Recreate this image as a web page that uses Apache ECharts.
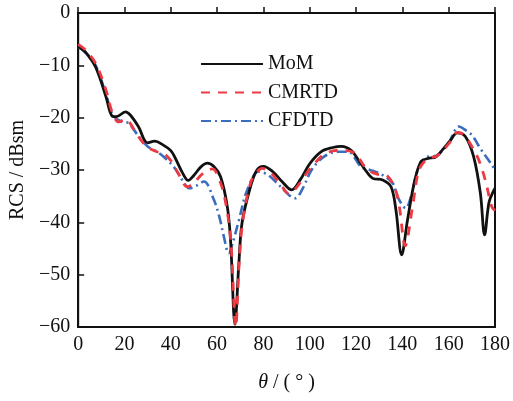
<!DOCTYPE html>
<html><head><meta charset="utf-8">
<script src="https://cdn.jsdelivr.net/npm/echarts@6/dist/echarts.min.js"></script>
<style>html,body{margin:0;padding:0;background:#fff}#c{width:513px;height:401px}</style>
</head><body><div id="c"></div>
<script>
const xTicks = [0,20,40,60,80,100,120,140,160,180];
const yTicks = [-60,-50,-40,-30,-20,-10,0];

const momTheta = [0,3,7.5,12,14.7,16.5,20.4,22.5,26,30,33,36.6,40,42,45,47.5,50,53,55.8,58.5,61.5,64.4,65.8,67.7,69.4,70.8,74.4,77.2,80,84,88,92.2,96,100,105,110,113.7,118,121.5,124,127.2,131.5,135.1,137.2,139.7,142.2,145.1,148,151,154.4,157.2,160.5,163.7,167.2,170.8,173.7,175.5,177.5,180];
const momRCS = [-6.4,-7.4,-10.3,-16,-19.7,-19.8,-18.9,-19.5,-21.7,-24.8,-24.5,-25.2,-26.3,-27.8,-30.5,-32,-31,-29.4,-28.7,-29.3,-31.3,-37,-43.4,-59.5,-47.8,-40,-33.2,-30,-29.3,-30.3,-32.2,-33.8,-31.8,-28.8,-26.5,-25.7,-25.5,-26.3,-28.4,-30,-31.6,-31.9,-33.2,-37.6,-46.2,-39.6,-32.5,-28.4,-27.8,-27.5,-26.2,-24.5,-22.9,-23.6,-27.5,-34.5,-42.4,-36,-33.5];

const cmrtdTheta = [0,3,7.5,12,14.7,17.5,20.4,22,26,29.6,34,36.5,40,43,47.2,50,53,56,58,61.5,64,66,68,69.5,71,74.4,77,79.4,83,87,91,94,98,102.2,107,113.7,119.4,124.4,129,133,137,138.7,141.2,144.4,147.2,151,155,160,164,167,170,173,175.8,178.6,180];
const cmrtdRCS = [-6,-7,-9.6,-14.7,-19,-20.8,-20.3,-20.8,-23.6,-25.5,-26.5,-26.7,-28.2,-30.5,-33.2,-32.5,-31,-30,-29.8,-32.5,-37,-44,-60,-48,-40,-32.5,-30.5,-29.7,-30.5,-32.5,-34.5,-33.5,-31,-28.7,-26.8,-26.2,-26.8,-29.7,-30.8,-31,-33.8,-37,-44.5,-37,-30,-27.8,-27.3,-25,-22.8,-23.5,-25.5,-28.1,-31.9,-37,-37.8];

const cfdtdTheta = [0,3,7.5,12,15,18.9,21.5,26,30,34,37.5,41.8,45.8,48,51,54.3,58.6,61,62.9,65,67,69.4,73,78,82.2,87,93.7,97,100.8,106,112.2,116.5,122.2,126,130,135.8,137.9,141.5,143.7,146.6,150,155,160,164.4,167,170,173.7,178.6,180];
const cfdtdRCS = [-6.5,-7.5,-10,-15.5,-19.5,-20.8,-21,-23.5,-25.5,-26.5,-27.7,-29.7,-32.5,-33.5,-33,-32.2,-35.7,-39,-42.7,-45.9,-43.5,-39.6,-33.8,-30.3,-31,-33,-35.4,-33.5,-30,-27.5,-26.5,-26.5,-29.4,-30,-30.6,-32.5,-35.1,-37.3,-35.1,-30,-27.6,-27.2,-24.8,-21.7,-22.3,-23.3,-25.9,-29,-30];

const seriesNames = ['MoM','CMRTD','CFDTD'];

const pair = (xs, ys) => xs.map((x, i) => [x, ys[i]]);
const font = '"Liberation Serif", "Times New Roman", serif';
const chart = echarts.init(document.getElementById('c'), null, {renderer: 'canvas'});
chart.setOption({
  animation: false,
  backgroundColor: '#fff',
  grid: {left: 76, right: 17, top: 13, bottom: 74, show: true, borderColor: '#111', borderWidth: 2, backgroundColor: 'transparent'},
  legend: {
    orient: 'vertical', left: 200, top: 54, padding: 0, itemWidth: 62, itemHeight: 12, itemGap: 8.5,
    data: seriesNames,
    itemStyle: {opacity: 0},
    textStyle: {fontFamily: font, fontSize: 20, color: '#111'}
  },
  xAxis: {
    type: 'value', min: 0, max: 180, interval: 20,
    name: '{i|θ} / ( ° )', nameLocation: 'middle', nameGap: 46,
    nameTextStyle: {fontFamily: font, fontSize: 20, color: '#111', rich: {i: {fontFamily: font, fontStyle: 'italic', fontSize: 20, color: '#111'}}},
    axisLine: {lineStyle: {color: '#111', width: 2}},
    axisTick: {inside: true, length: 6, lineStyle: {color: '#111', width: 1.5}},
    axisLabel: {fontFamily: font, fontSize: 20, color: '#111', margin: 8,
      formatter: v => xTicks.includes(v) ? String(v) : ''},
    splitLine: {show: false}
  },
  yAxis: {
    type: 'value', min: -60, max: 0, interval: 10,
    name: 'RCS / dBsm', nameLocation: 'middle', nameGap: 40, nameRotate: 90,
    nameTextStyle: {fontFamily: font, fontSize: 20, color: '#111'},
    axisLine: {lineStyle: {color: '#111', width: 2}},
    axisTick: {inside: true, length: 6, lineStyle: {color: '#111', width: 1.5}},
    axisLabel: {fontFamily: font, fontSize: 20, color: '#111', margin: 8,
      formatter: v => yTicks.includes(v) ? String(v).replace('-', '\u2212') : ''},
    splitLine: {show: false}
  },
  series: [
    {name: seriesNames[0], type: 'line', data: pair(momTheta, momRCS), smooth: 0.35, symbol: 'none', z: 3,
     itemStyle: {color: '#111'}, lineStyle: {color: '#111', width: 2.8}},
    {name: seriesNames[1], type: 'line', data: pair(cmrtdTheta, cmrtdRCS), smooth: 0.35, symbol: 'none', z: 4,
     itemStyle: {color: '#ec3a43'}, lineStyle: {color: '#ec3a43', width: 2.8, type: [9, 8]}},
    {name: seriesNames[2], type: 'line', data: pair(cfdtdTheta, cfdtdRCS), smooth: 0.35, symbol: 'none', z: 2,
     itemStyle: {color: '#3a6dbd'}, lineStyle: {color: '#3a6dbd', width: 2.6, type: [10, 4, 2, 4]}}
  ]
});
</script></body></html>
